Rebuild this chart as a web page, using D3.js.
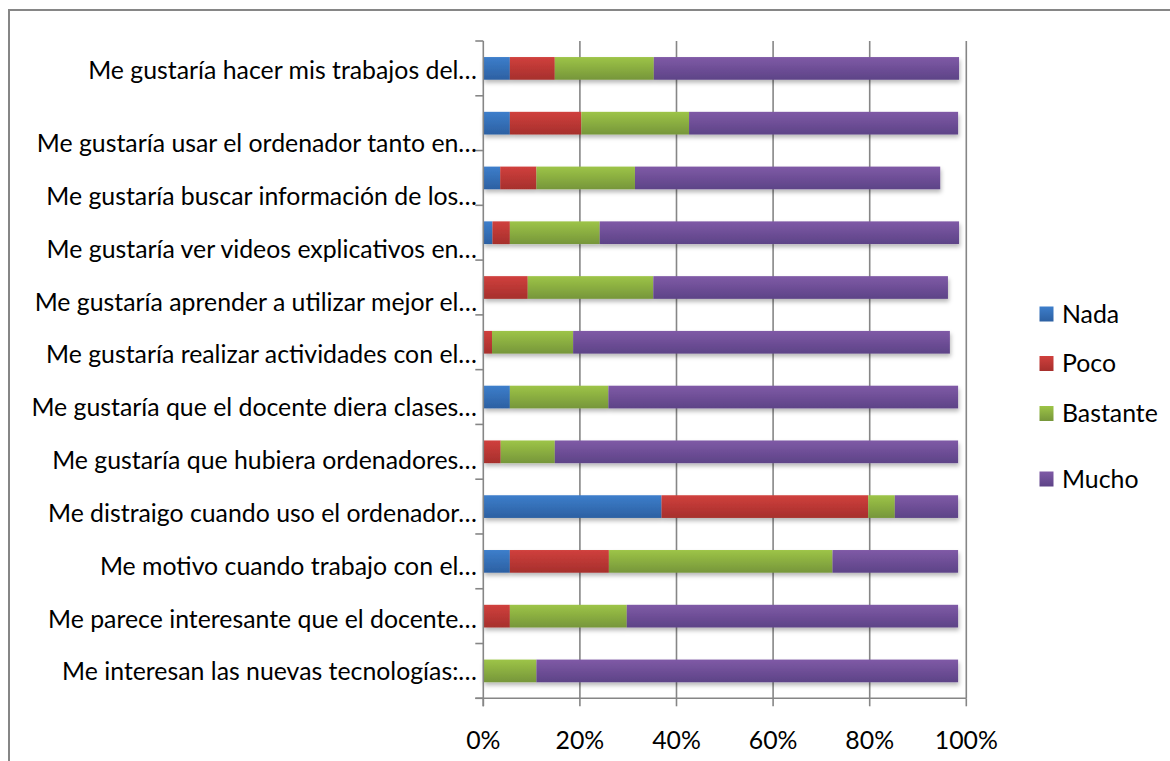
<!DOCTYPE html>
<html>
<head>
<meta charset="utf-8">
<script src="https://cdn.jsdelivr.net/npm/d3@7"></script>
<style>
  html, body { margin: 0; padding: 0; background: #fff; }
  svg { display: block; }
  text { font-family: Lato, "Open Sans", sans-serif; fill: #000; }
</style>
</head>
<body>
<svg id="chart" width="1170" height="761"></svg>
<script>
// ---- data ----
const categories = [
  "Me gustaría hacer mis trabajos del…",
  "Me gustaría usar el ordenador tanto en…",
  "Me gustaría buscar información de los…",
  "Me gustaría ver videos explicativos en…",
  "Me gustaría aprender a utilizar mejor el…",
  "Me gustaría realizar actividades con el…",
  "Me gustaría que el docente diera clases…",
  "Me gustaría que hubiera ordenadores…",
  "Me distraigo cuando uso el ordenador…",
  "Me motivo cuando trabajo con el…",
  "Me parece interesante que el docente…",
  "Me interesan las nuevas tecnologías:…"
];
const seriesNames = ["Nada", "Poco", "Bastante", "Mucho"];
const nada     = [0.055, 0.055, 0.035, 0.019, 0.000, 0.000, 0.055, 0.000, 0.369, 0.055, 0.000, 0.000];
const poco     = [0.093, 0.148, 0.075, 0.036, 0.092, 0.018, 0.000, 0.036, 0.428, 0.205, 0.055, 0.000];
const bastante = [0.205, 0.223, 0.204, 0.186, 0.260, 0.168, 0.204, 0.112, 0.055, 0.463, 0.242, 0.110];
const mucho    = [0.632, 0.557, 0.632, 0.744, 0.610, 0.780, 0.724, 0.835, 0.131, 0.260, 0.686, 0.873];
const tickValues = [0, 0.2, 0.4, 0.6, 0.8, 1.0];
const tickLabels = ["0%", "20%", "40%", "60%", "80%", "100%"];

// ---- styles ----
const colorsTop    = ["#3d7ecb", "#d0403d", "#9dc447", "#7f5aa6"];
const colorsBottom = ["#2c60a2", "#a62f2c", "#76963a", "#5d4387"];
const legendColorsTop = colorsTop, legendColorsBottom = colorsBottom;

const svg = d3.select("#chart");
const W = 1170, H = 761;

// outer border of chart area
svg.append("rect").attr("x", 9).attr("y", 10).attr("width", 1180).attr("height", 800)
  .attr("fill", "none").attr("stroke", "#868686").attr("stroke-width", 2);

const defs = svg.append("defs");
seriesNames.forEach((s, i) => {
  const g = defs.append("linearGradient").attr("id", "grad" + i)
    .attr("x1", 0).attr("y1", 0).attr("x2", 0).attr("y2", 1);
  g.append("stop").attr("offset", "0%").attr("stop-color", colorsTop[i]);
  g.append("stop").attr("offset", "100%").attr("stop-color", colorsBottom[i]);
});
const f = defs.append("filter").attr("id", "shadow").attr("x", "-5%").attr("y", "-30%").attr("width", "110%").attr("height", "180%");
f.append("feDropShadow").attr("dx", 1).attr("dy", 3).attr("stdDeviation", 2)
  .attr("flood-color", "#000").attr("flood-opacity", 0.28);

// ---- scales ----
const plotL = 483.3, plotR = 966.3, plotT = 41, plotB = 698.3;
const x = d3.scaleLinear().domain([0, 1]).range([plotL, plotR]);
const y = d3.scaleBand().domain(categories).range([plotT, plotB])
  .paddingInner(0.586).paddingOuter(0.293);

// label positions (as laid out in the reference)
const labelY = d3.scaleLinear().domain([1, categories.length - 1]).range([143.3, 671.7]);
const labelPos = (d, i) => i === 0 ? y(d) + y.bandwidth() / 2 + 2 : labelY(i);

// font fit: match the reference label width
const probe = svg.append("text").attr("font-size", 20).text(categories[0]);
const pw = probe.node().getComputedTextLength();
probe.remove();
const fs = 20 * 389 / pw;

// gridlines
svg.append("g").selectAll("line").data(tickValues.slice(1)).join("line")
  .attr("x1", d => x(d)).attr("x2", d => x(d))
  .attr("y1", plotT).attr("y2", plotB)
  .attr("stroke", "#868686").attr("stroke-width", 1.6);

// stacked data
const rows = categories.map((c, i) => ({ cat: c, Nada: nada[i], Poco: poco[i], Bastante: bastante[i], Mucho: mucho[i] }));
const stacked = d3.stack().keys(seriesNames)(rows);

const barsG = svg.append("g").attr("filter", "url(#shadow)");
stacked.forEach((layer, si) => {
  barsG.append("g").selectAll("rect").data(layer.filter(d => d[1] - d[0] > 0)).join("rect")
    .attr("x", d => x(d[0]))
    .attr("width", d => x(d[1]) - x(d[0]))
    .attr("y", d => y(d.data.cat))
    .attr("height", y.bandwidth())
    .attr("fill", "url(#grad" + si + ")");
});

// axes lines
const axG = svg.append("g").attr("stroke", "#868686").attr("stroke-width", 1.6);
axG.append("line").attr("x1", plotL).attr("x2", plotL).attr("y1", plotT).attr("y2", plotB + 8);
axG.append("line").attr("x1", plotL - 8).attr("x2", plotR).attr("y1", plotB).attr("y2", plotB);
// category ticks at band boundaries
const bounds = categories.map(c => y(c) - y.step() * y.paddingInner() / 2).concat([plotB]);
axG.selectAll(".ct").data(bounds).join("line")
  .attr("x1", plotL - 8).attr("x2", plotL).attr("y1", d => d).attr("y2", d => d);
// value ticks
axG.selectAll(".vt").data(tickValues).join("line")
  .attr("x1", d => x(d)).attr("x2", d => x(d)).attr("y1", plotB).attr("y2", plotB + 8);

// tick labels
svg.append("g").selectAll("text").data(tickValues).join("text")
  .attr("x", d => x(d)).attr("y", 740).attr("dy", "0.35em")
  .attr("text-anchor", "middle").attr("font-size", fs)
  .text((d, i) => tickLabels[i]);

// category labels
svg.append("g").selectAll("text").data(categories).join("text")
  .attr("x", 477).attr("y", (d, i) => labelPos(d, i)).attr("dy", "0.35em")
  .attr("text-anchor", "end").attr("font-size", fs)
  .text(d => d);

// legend
const legendY = [314, 363.5, 413.5, 479];
const lg = svg.append("g");
seriesNames.forEach((s, i) => {
  lg.append("rect").attr("x", 1039.5).attr("y", legendY[i] - 7.5).attr("width", 14).attr("height", 15)
    .attr("fill", "url(#grad" + i + ")");
  lg.append("text").attr("x", 1062).attr("y", legendY[i]).attr("dy", "0.35em")
    .attr("font-size", fs).text(s);
});
</script>
</body>
</html>
